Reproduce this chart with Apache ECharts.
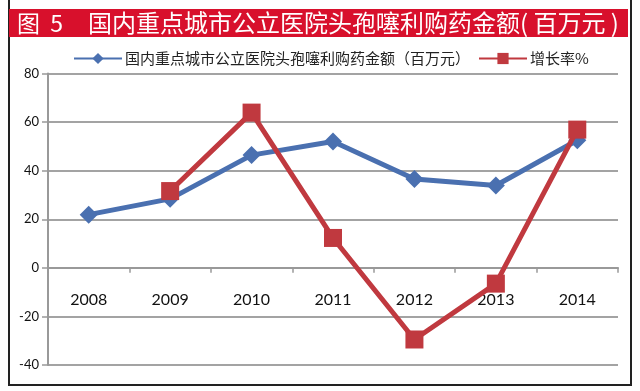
<!DOCTYPE html>
<html>
<head>
<meta charset="utf-8">
<script src="https://cdn.jsdelivr.net/npm/echarts@6/dist/echarts.min.js"></script>
<style>
html,body{margin:0;padding:0;background:#fff;}
#chart{width:640px;height:391px;}
</style>
</head>
<body>
<div id="chart"></div>
<script>
var years = ['2008', '2009', '2010', '2011', '2012', '2013', '2014'];
var amount = [21.9, 28.4, 46.4, 52, 36.6, 33.9, 52.5];
var growth = [null, 31.6, 63.9, 12.3, -29.5, -6.5, 56.9];
var yTicks = { min: -40, max: 80, interval: 20 };
var titleLabel = '图  5';
var titleText = '国内重点城市公立医院头孢噻利购药金额( 百万元 )';
var seriesNames = ['国内重点城市公立医院头孢噻利购药金额（百万元）', '增长率%'];

var gridTop = 73.5, gridBottom = 26, H = 391;
var gridH = H - gridTop - gridBottom;
var zeroOffset = -gridH * (0 - yTicks.min) / (yTicks.max - yTicks.min);

var chart = echarts.init(document.getElementById('chart'), null, { renderer: 'canvas' });
var cjk = '"Noto Sans CJK SC", "Noto Sans", sans-serif';
chart.setOption({
  animation: false,
  backgroundColor: '#fff',
  graphic: [
    { type: 'rect', shape: { x: 9, y: -2, width: 622, height: 387 }, style: { fill: 'none', stroke: '#222', lineWidth: 2 }, z: 0 },
    { type: 'rect', shape: { x: 9, y: 9, width: 619, height: 28 }, style: { fill: '#d8102c' }, z: 1 },
    { type: 'text', style: { text: titleLabel, fill: '#fff', font: '23px ' + cjk, textVerticalAlign: 'middle', x: 17, y: 23 }, z: 2 },
    { type: 'text', style: { text: titleText, fill: '#fff', font: '24px ' + cjk, textVerticalAlign: 'middle', x: 88, y: 23 }, z: 2 }
  ],
  legend: {
    left: 68,
    top: 46,
    itemWidth: 48,
    itemHeight: 14,
    itemGap: 8,
    textStyle: { fontFamily: cjk, fontSize: 15, color: '#222', padding: [0, 0, 0, -2] },
    data: seriesNames
  },
  grid: { left: 48, right: 22, top: gridTop, bottom: gridBottom, containLabel: false, outerBoundsMode: 'none' },
  xAxis: {
    type: 'category',
    data: years,
    boundaryGap: true,
    position: 'bottom',
    offset: zeroOffset,
    axisLine: { onZero: false, lineStyle: { color: '#999', width: 2 } },
    axisTick: { show: true, inside: false, length: 5, lineStyle: { color: '#999', width: 1.5 } },
    axisLabel: { margin: 24, fontFamily: 'Lato, sans-serif', fontSize: 16, color: '#111' },
    splitLine: { show: false }
  },
  yAxis: {
    type: 'value',
    min: yTicks.min,
    max: yTicks.max,
    interval: yTicks.interval,
    axisLine: { show: true, lineStyle: { color: '#999', width: 2 } },
    axisTick: { show: true, length: 6, lineStyle: { color: '#999', width: 1.5 } },
    axisLabel: { margin: 9, fontFamily: 'Lato, sans-serif', fontSize: 13, color: '#111' },
    splitLine: { show: true, lineStyle: { color: '#a3a3a3', width: 2 } }
  },
  series: [
    {
      name: seriesNames[0],
      type: 'line',
      data: amount,
      symbol: 'diamond',
      symbolSize: 18,
      lineStyle: { color: '#4a70b0', width: 5 },
      itemStyle: { color: '#4a70b0' },
      z: 3
    },
    {
      name: seriesNames[1],
      type: 'line',
      data: growth,
      symbol: 'rect',
      symbolSize: 18,
      lineStyle: { color: '#c0393f', width: 5 },
      itemStyle: { color: '#c0393f' },
      z: 4
    }
  ]
});
</script>
</body>
</html>
